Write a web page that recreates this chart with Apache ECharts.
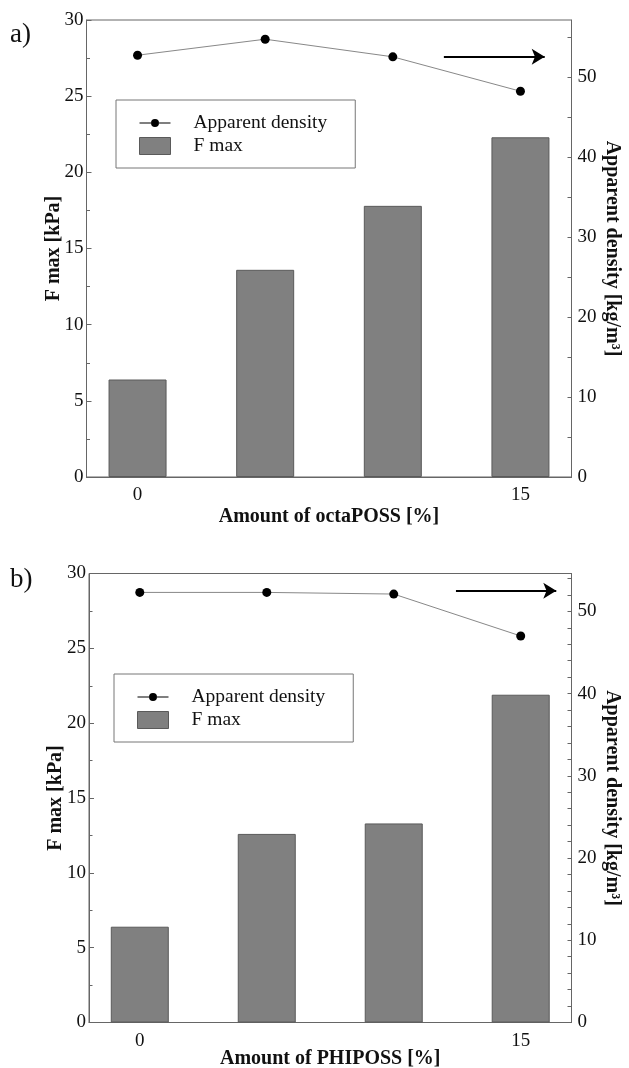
<!DOCTYPE html>
<html>
<head>
<meta charset="utf-8">
<script src="https://cdn.jsdelivr.net/npm/echarts@6/dist/echarts.min.js"></script>
<style>
html,body{margin:0;padding:0;background:#fff;}
#chart{width:629px;height:1068px;}
</style>
</head>
<body>
<div id="chart"></div>
<script>
// ---- data ----
const amounts = [0, 5, 10, 15];            // x positions (amount of POSS, %)
const xTickLabels = ['0', '15'];           // x tick labels shown
const leftTickStep = 5;                    // F max ticks
const rightLabelStep = 10;                 // density labels

const fmaxOcta = [6.4, 13.6, 17.8, 22.3];
const densityOcta = [52.7, 54.7, 52.5, 48.2];
const fmaxPhi = [6.4, 12.6, 13.3, 21.9];
const densityPhi = [52.3, 52.3, 52.1, 47.0];

const arrowOcta = [[12.0, 52.5], [15.95, 52.5]];
const arrowPhi = [[12.45, 52.5], [16.4, 52.5]];

const panelLabels = ['a)', 'b)'];
const xTitles = ['Amount of octaPOSS [%]', 'Amount of PHIPOSS [%]'];
const leftTitle = 'F max [kPa]';
const rightTitle = 'Apparent density [kg/m³]';
const seriesNames = ['Apparent density', 'F max'];

// ---- style ----
const FONT = 'Liberation Serif';
const AXC = '#666';
const pairs = (xs, ys) => xs.map((x, i) => [x, ys[i]]);

function xAxisDef(gridIndex, title, gap, margin) {
  return {
    type: 'value', gridIndex, min: -2, max: 17, interval: 1,
    name: title, nameLocation: 'middle', nameGap: gap, nameMoveOverlap: false,
    nameTextStyle: { fontFamily: FONT, fontWeight: 'bold', fontSize: 20, color: '#111' },
    axisLine: { show: true, onZero: false, lineStyle: { color: AXC, width: 1 } },
    axisTick: { show: false },
    splitLine: { show: false },
    axisLabel: {
      margin, fontFamily: FONT, fontSize: 19, color: '#111',
      formatter: v => (xTickLabels.indexOf(String(v)) >= 0 ? String(v) : '')
    }
  };
}
function leftAxisDef(gridIndex) {
  return {
    type: 'value', gridIndex, position: 'left', min: 0, max: 30, interval: leftTickStep,
    name: leftTitle, nameLocation: 'middle', nameGap: 23, nameRotate: 90, nameMoveOverlap: false,
    nameTextStyle: { fontFamily: FONT, fontWeight: 'bold', fontSize: 20, color: '#111' },
    axisLine: { show: true, onZero: false, lineStyle: { color: AXC, width: 1 } },
    axisTick: { show: true, inside: true, length: 5, lineStyle: { color: AXC } },
    minorTick: { show: true, splitNumber: 2, length: 3.5, lineStyle: { color: AXC } },
    splitLine: { show: false }, minorSplitLine: { show: false },
    axisLabel: { margin: 3, fontFamily: FONT, fontSize: 19, color: '#111' }
  };
}
function rightAxisDef(gridIndex, max, step) {
  return {
    type: 'value', gridIndex, position: 'right', min: 0, max, interval: step,
    name: rightTitle, nameLocation: 'middle', nameGap: 31, nameRotate: -90, nameMoveOverlap: false,
    nameTextStyle: { fontFamily: FONT, fontWeight: 'bold', fontSize: 20, color: '#111' },
    axisLine: { show: true, onZero: false, lineStyle: { color: AXC, width: 1 } },
    axisTick: { show: true, inside: true, length: 4, lineStyle: { color: AXC } },
    splitLine: { show: false },
    axisLabel: {
      margin: 6, fontFamily: FONT, fontSize: 19, color: '#111', showMaxLabel: false,
      formatter: v => (Math.abs(v % rightLabelStep) < 1e-9 ? String(v) : '')
    }
  };
}
function barSeries(xi, yi, vals) {
  return {
    type: 'bar', name: seriesNames[1], xAxisIndex: xi, yAxisIndex: yi,
    data: pairs(amounts, vals), barWidth: 58, z: 2,
    itemStyle: { color: '#808080', borderColor: '#5a5a5a', borderWidth: 1 },
    emphasis: { disabled: true }
  };
}
function lineSeries(xi, yi, vals, arrow) {
  return {
    type: 'line', name: seriesNames[0], xAxisIndex: xi, yAxisIndex: yi,
    data: pairs(amounts, vals), z: 3,
    symbol: 'circle', symbolSize: 9,
    itemStyle: { color: '#000' },
    lineStyle: { color: '#888', width: 1 },
    emphasis: { disabled: true },
    markLine: {
      silent: true, symbol: ['none', 'arrow'], symbolSize: [12, 13],
      label: { show: false },
      lineStyle: { color: '#000', width: 2, type: 'solid' },
      data: [[{ coord: arrow[0] }, { coord: arrow[1] }]]
    }
  };
}
function legendDef(left, top) {
  return {
    left, top, orient: 'vertical',
    padding: [13, 28, 12, 23], itemGap: 3,
    itemWidth: 31, itemHeight: 17, symbolKeepAspect: true,
    borderColor: '#777', borderWidth: 1, backgroundColor: '#fff',
    selectedMode: false,
    textStyle: { fontFamily: FONT, fontSize: 19.5, color: '#111', padding: [0, 0, 0, 18] },
    data: [
      { name: seriesNames[0],
        icon: 'path://M0,3.5h11.6v1h-11.6z M19.4,3.5h11.6v1h-11.6z M11.5,4a4,4 0 1,0 8,0a4,4 0 1,0 -8,0z',
        itemStyle: { color: '#000', borderWidth: 0 } },
      { name: seriesNames[1], icon: 'rect',
        itemStyle: { color: '#808080', borderColor: '#5a5a5a', borderWidth: 1 } }
    ]
  };
}

const option = {
  animation: false,
  backgroundColor: '#fff',
  title: [
    { text: panelLabels[0], left: 10, top: 21, padding: 0,
      textStyle: { fontFamily: FONT, fontWeight: 'normal', fontSize: 27, color: '#111' } },
    { text: panelLabels[1], left: 10, top: 566, padding: 0,
      textStyle: { fontFamily: FONT, fontWeight: 'normal', fontSize: 27, color: '#111' } }
  ],
  grid: [
    { left: 86.5, right: 57.5, top: 20, height: 457, show: true, borderColor: AXC, borderWidth: 1,
      containLabel: false, outerBoundsMode: 'none' },
    { left: 89, right: 57.5, top: 573.5, height: 449, show: true, borderColor: AXC, borderWidth: 1,
      containLabel: false, outerBoundsMode: 'none' }
  ],
  legend: [legendDef(116, 100), legendDef(114, 674)],
  xAxis: [xAxisDef(0, xTitles[0], 30, 9), xAxisDef(1, xTitles[1], 26, 9)],
  yAxis: [leftAxisDef(0), rightAxisDef(0, 57.1, 5), leftAxisDef(1), rightAxisDef(1, 54.6, 2)],
  series: [
    barSeries(0, 0, fmaxOcta),
    lineSeries(0, 1, densityOcta, arrowOcta),
    barSeries(1, 2, fmaxPhi),
    lineSeries(1, 3, densityPhi, arrowPhi)
  ]
};

const chart = echarts.init(document.getElementById('chart'), null, { renderer: 'canvas' });
chart.setOption(option);
</script>
</body>
</html>
